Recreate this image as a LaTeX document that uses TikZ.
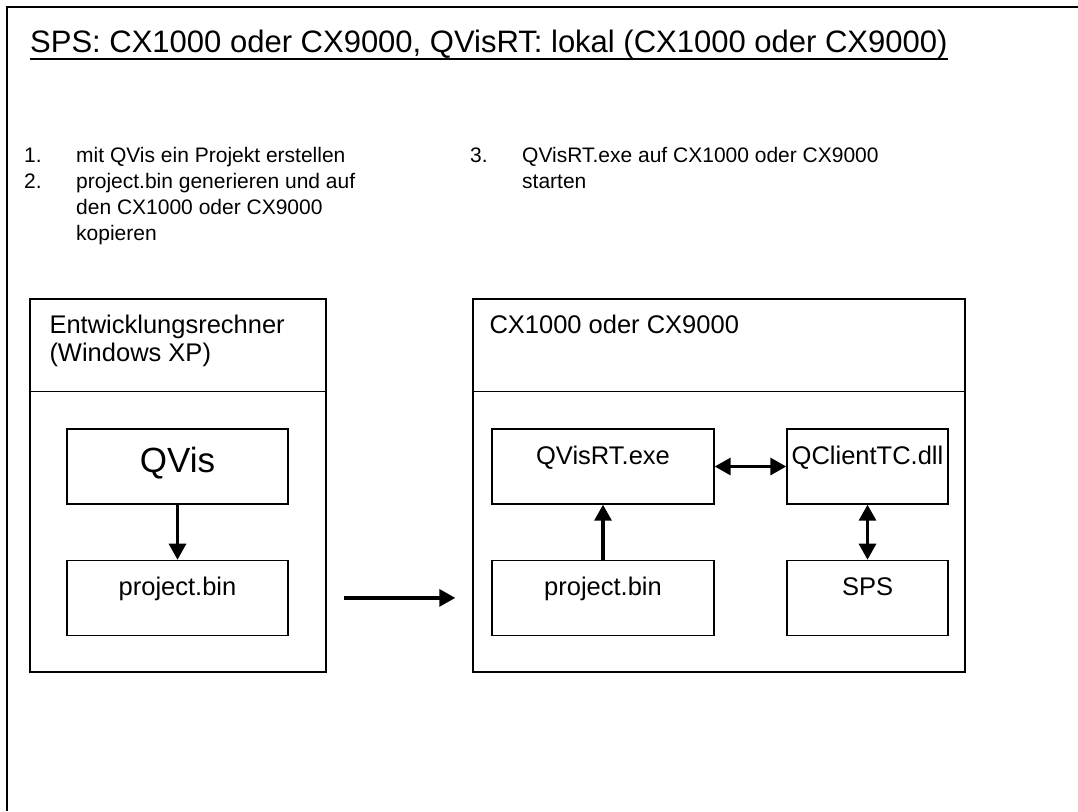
\documentclass[tikz,border=0pt]{standalone}
\usepackage{fontspec}
\setmainfont{Liberation Sans}
\usetikzlibrary{arrows.meta,positioning}

\newcommand{\titlefont}{\fontsize{31}{37}\selectfont}
\newcommand{\listfont}{\fontsize{21}{26}\selectfont}
\newcommand{\boxfont}{\fontsize{25.5}{28}\selectfont}

\tikzset{
  panel/.style={draw, line width=1.4pt, minimum width=296pt, minimum height=373pt, inner sep=0pt},
  box/.style={draw, line width=1.4pt, minimum width=221pt, minimum height=75pt,
    inner sep=0pt, font=\boxfont, text height=19pt, text depth=24pt},
  head/.style={anchor=north west, inner sep=0pt, align=left, font=\boxfont},
  item/.style={anchor=base west, inner sep=0pt, font=\listfont}
}

\begin{document}
\begin{tikzpicture}[x=1pt,y=-1pt,>={Triangle[length=16pt,width=17pt]}]
\useasboundingbox (0,0) rectangle (1078,811);
% outer frame, open at right and bottom
\draw[line width=2.6pt] (1078,7) -- (7,7) -- (7,811);

% title
\node[anchor=base west, inner sep=0pt, font=\titlefont] (title) at (30,52)
  {SPS: CX1000 oder CX9000, QVisRT: lokal (CX1000 oder CX9000)};
\draw[line width=2.4pt] ([yshift=-7pt]title.base west) -- ([yshift=-7pt]title.base east);

% steps
\node[item] (n1) at (24,162) {1.};
\node[item] (s1) at (76,162) {mit QVis ein Projekt erstellen};
\node[item] (n2) at (24,188) {2.};
\node[item] (s2) at (76,188)
  {\begin{tabular}[t]{@{}l@{}}project.bin generieren und auf\\den CX1000 oder CX9000\\kopieren\end{tabular}};
\node[item] (n3) at (470,162) {3.};
\node[item] (s3) at (522,162)
  {\begin{tabular}[t]{@{}l@{}}QVisRT.exe auf CX1000 oder CX9000\\starten\end{tabular}};

% computers
\node[panel] (dev) at (178,485.5) {};
\node[panel, minimum width=492pt] (cx) at (719,485.5) {};
\draw[line width=1.4pt] ([yshift=-93pt]dev.north west) -- ([yshift=-93pt]dev.north east);
\draw[line width=1.4pt] ([yshift=-93pt]cx.north west) -- ([yshift=-93pt]cx.north east);
\node[head] (devname) at ([xshift=20pt,yshift=-17pt]dev.north west)
  {Entwicklungsrechner\\(Windows XP)};
\node[head] (cxname) at ([xshift=17pt,yshift=-17pt]cx.north west) {CX1000 oder CX9000};

% programs
\node[box, font=\fontsize{35}{40}\selectfont, text height=25pt, text depth=13pt]
  (qvis) at (177.5,466.5) {QVis};
\node[box, below=55pt of qvis] (projl) {project.bin};
\node[box, minimum width=222pt] (qvisrt) at (603,466.5) {QVisRT.exe};
\node[box, below=55pt of qvisrt, minimum width=222pt] (projr) {project.bin};
\node[box, minimum width=161pt] (qclient) at (867.5,466.5) {QClientTC.dll};
\node[box, below=55pt of qclient, minimum width=161pt] (sps) {SPS};

\path[->,line width=3.2pt]
(qvis) edge (projl)
(projr) edge (qvisrt);
\path[<->,line width=3.2pt]
(qvisrt) edge (qclient)
(qclient) edge (sps);
\draw[->,line width=3.2pt,shorten <=17pt,shorten >=17pt] (dev.east |- projl) -- (cx.west |- projl);
\end{tikzpicture}
\end{document}
